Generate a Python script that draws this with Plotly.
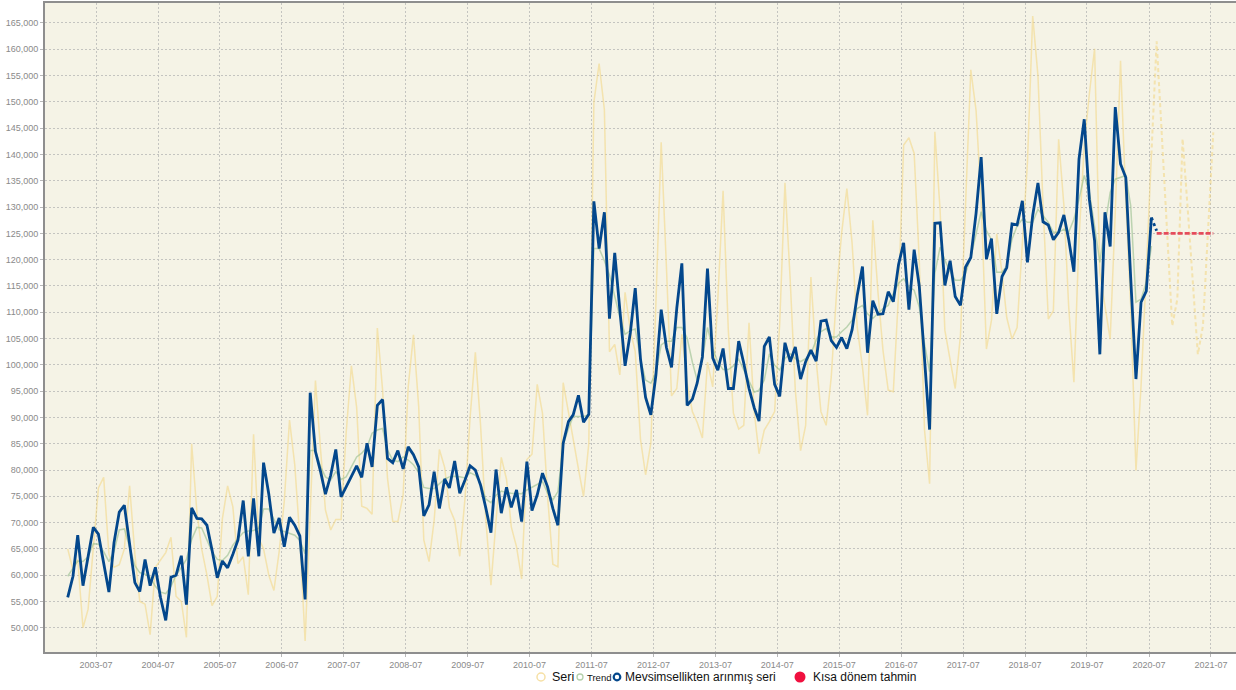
import plotly.graph_objects as go

# ---- data (monthly, Jan 2003 .. Jul 2020) ----
start_year = 2003
seasonally_adjusted = [
    55800, 59800, 67600, 58000, 63500, 69100, 67800, 62500, 56800, 66200, 72000, 73300,
    65500, 58600, 56900, 63000, 58000, 61500, 55800, 51400, 59600, 60000, 63700, 54400,
    72800, 70800, 70700, 69500, 64800, 59500, 62700, 61400, 64000, 66700, 74200, 63600,
    74600, 63600, 81400, 75400, 68000, 70900, 65400, 71000, 69500, 67500, 55400, 94700,
    83500, 79600, 75400, 79000, 83900, 74900, 76800, 78700, 80800, 78600, 85100, 80600,
    92300, 93400, 82200, 81400, 83700, 80200, 84400, 82900, 80600, 71300, 73400, 79700,
    72700, 78300, 76600, 81700, 75600, 78100, 80800, 80000, 77100, 72900, 68100, 80100,
    71800, 76700, 72900, 76200, 70200, 81600, 72300, 75300, 79400, 76800, 72700, 69500,
    85100, 89200, 90500, 94200, 89100, 90600, 131100, 122100, 129000, 108800, 121300, 110500,
    99800, 106100, 114600, 101100, 93800, 90500, 98100, 110500, 103300, 99500, 110800, 119300,
    92300, 93500, 96500, 101500, 118300, 101300, 99000, 103100, 95500, 95500, 104500, 100300,
    95500, 91800, 89300, 103500, 105300, 96300, 94000, 104200, 100600, 103400, 97300, 100600,
    102800, 100700, 108300, 108500, 104600, 103300, 105200, 103100, 106700, 113200, 118700, 102300,
    112200, 109600, 109700, 113900, 112000, 119100, 123200, 110500, 121900, 115000, 101000, 87700,
    126900, 127000, 115100, 119800, 113000, 111300, 118600, 120400, 128800, 139500, 120100, 124000,
    109700, 116800, 118500, 126800, 126600, 131200, 119500, 128400, 134600, 127200, 126600, 123800,
    125200, 128500, 123900, 117700, 139100, 146700, 131500, 123600, 102000, 129000, 122500, 149000,
    138200, 135600, 116500, 97300, 111900, 114000, 128000,
]
raw_series = [
    65000, 61000, 63000, 50000, 53500, 66000, 76600, 78600, 64000, 61500, 62000, 65000,
    77000, 64000, 55000, 54500, 48700, 61500, 63000, 64300, 67200, 56000, 55000, 48200,
    85000, 72000, 65000, 60000, 54200, 56000, 70700, 77000, 73000, 62200, 63500, 56300,
    86800, 67000, 65000, 60000, 57100, 64500, 74000, 89500, 81000, 67000, 47500, 73000,
    97000, 83500, 72400, 68600, 70600, 70600, 87000, 99800, 91900, 73100, 72700, 71600,
    107000, 95200, 78400, 70200, 70200, 75200, 95800, 105700, 92000, 66700, 62600, 70400,
    83900, 80500, 72800, 70400, 63600, 74600, 90000, 102400, 88400, 71000, 58100, 70300,
    82400, 78200, 69200, 65400, 59300, 82000, 83000, 96300, 90800, 75000, 62100, 61600,
    96600, 91000, 85500, 80200, 75000, 85000, 149900, 157300, 148500, 102500, 103900, 98100,
    113800, 106500, 102500, 85800, 79100, 85100, 111800, 142300, 118500, 94100, 95500, 105800,
    96500, 91100, 89100, 86100, 100500, 95800, 112500, 133100, 106500, 90800, 87800, 88500,
    108000, 91000, 83100, 87600, 89200, 91100, 107900, 134600, 116100, 95200, 83700, 88500,
    116700, 100900, 91100, 88500, 97700, 113600, 125000, 133500, 123100, 107200, 99600, 90400,
    127500, 113600, 102800, 95200, 94900, 113600, 141800, 143200, 140200, 119900, 87600, 77400,
    144300, 129400, 106600, 100600, 95500, 105600, 131300, 156100, 148400, 131300, 103000, 108500,
    124900, 117600, 109000, 104900, 107100, 123900, 138500, 166300, 155000, 130300, 108700, 110300,
    142900, 130300, 111200, 96700, 123900, 141700, 151500, 160100, 117600, 111200, 104900, 129000,
    157800, 131500, 111200, 79900, 96000, 118000, 140000,
]
trend = [
    59800, 61200, 62700, 62600, 63500, 66000, 65900, 64500, 62600, 64500, 68600, 68800,
    65300, 61800, 60500, 60200, 59600, 57900, 56800, 56500, 57900, 60000, 61500, 63000,
    66800, 69100, 69000, 66800, 64500, 63000, 62800, 63800, 65700, 67000, 68100, 68400,
    68500, 69000, 72600, 72600, 70600, 68600, 68300, 68000, 67600, 66600, 64100, 83700,
    83700, 80600, 78700, 78100, 79700, 78200, 78700, 80600, 82500, 83200, 84400, 87000,
    87600, 87900, 83800, 81900, 81600, 82500, 81900, 81000, 79500, 76700, 76500, 76500,
    77500, 78300, 78700, 78800, 78700, 78500, 79500, 79000, 77500, 74500, 73800, 75200,
    76000, 75700, 75600, 75500, 75500, 76200, 76700, 77200, 77800, 75600, 74300, 75900,
    84800, 87900, 90200, 90200, 90200, 90500, 122100, 122100, 119800, 117100, 113100, 109100,
    105800, 106500, 106800, 101100, 97100, 96500, 98500, 103800, 104500, 104500, 107100, 107100,
    105100, 100500, 97100, 101100, 107100, 103100, 100500, 99100, 99100, 99800, 101100, 99100,
    96800, 94800, 95200, 97100, 102100, 99900, 99000, 101200, 102100, 101200, 100600, 101200,
    102100, 104700, 106300, 106900, 105300, 105300, 106300, 107200, 108500, 110700, 111300, 109700,
    108800, 109700, 110700, 111300, 113600, 115500, 116400, 114800, 114200, 111000, 104000, 98700,
    117400, 122400, 119900, 117700, 116100, 116100, 117400, 120500, 124600, 129100, 125500, 123800,
    117600, 117600, 118800, 123900, 126400, 127700, 127100, 127100, 129600, 128300, 127100, 125200,
    125200, 125800, 125200, 127700, 131500, 136000, 132800, 126400, 119500, 126400, 132800, 135300,
    135600, 136000, 130300, 111900, 112500, 115700, 122600,
]
# forecast months Jul 2020 .. Jul 2021 (first value = last observed)
raw_forecast = [140000, 161500, 143400, 125400, 107400, 112500, 143000, 129300, 115700,
                102000, 107400, 125800, 144200]
sa_tail = [128000, 125500]            # Jul 2020 -> Aug 2020 (dotted)
short_term_forecast = [125000] * 12   # Aug 2020 .. Jul 2021

y_ticks = list(range(50000, 165001, 5000))

legend_labels = ["Seri", "Trend", "Mevsimsellikten arınmış seri", "Kısa dönem tahmin"]


def month_dates(first_index, count):
    out = []
    for k in range(first_index, first_index + count):
        out.append(f"{start_year + k // 12}-{k % 12 + 1:02d}-15")
    return out


n = len(seasonally_adjusted)
dates = month_dates(0, n)
raw_fc_dates = month_dates(n - 1, len(raw_forecast))
sa_tail_dates = month_dates(n - 1, len(sa_tail))
fc_dates = month_dates(n, len(short_term_forecast))

YELLOW = "rgba(242,214,128,0.55)"
GREEN = "rgba(150,190,140,0.6)"
BLUE = "#03478c"
RED = "rgba(228,60,78,0.9)"
GRID = "#c4c4c0"

W, H = 1236, 690
ML, MR, MT, MB = 45, 0, 3, 38

fig = go.Figure()
fig.add_trace(go.Scatter(x=dates, y=raw_series, mode="lines", name=legend_labels[0],
                         line=dict(color=YELLOW, width=1.5), showlegend=False))
fig.add_trace(go.Scatter(x=raw_fc_dates, y=raw_forecast, mode="lines", name=legend_labels[0],
                         line=dict(color=YELLOW, width=2, dash="4px,3px"), showlegend=False))
fig.add_trace(go.Scatter(x=dates, y=trend, mode="lines", name=legend_labels[1],
                         line=dict(color=GREEN, width=1.5), showlegend=False))
fig.add_trace(go.Scatter(x=dates, y=seasonally_adjusted, mode="lines", name=legend_labels[2],
                         line=dict(color=BLUE, width=2.8), showlegend=False))
fig.add_trace(go.Scatter(x=sa_tail_dates, y=sa_tail, mode="lines", name=legend_labels[2],
                         line=dict(color=BLUE, width=2.8, dash="dot"), showlegend=False))
fig.add_trace(go.Scatter(x=fc_dates, y=short_term_forecast, mode="lines", name=legend_labels[3],
                         line=dict(color=RED, width=2.8, dash="5px,2px"), showlegend=False))

# ---- legend drawn below the plot (pixel-sized symbols + text) ----
LEG_Y_PX = 677
leg_y = (H - LEG_Y_PX - MB) / (H - MB - MT)
legend_items = [
    # (symbol x px, radius, fill, line colour, line width, text x px, font size)
    (541, 4.0, "rgba(0,0,0,0)", "rgba(245,222,160,0.95)", 1.5, 550, 12.5),
    (580, 3.0, "rgba(0,0,0,0)", "rgba(175,205,165,0.95)", 1.3, 585, 9.5),
    (617, 3.3, "rgba(0,0,0,0)", BLUE, 2.2, 623, 12),
    (800, 5.5, "#f0103f", "#f0103f", 0, 811, 12),
]
for (sx, r, fill, lc, lw, tx, fs), label in zip(legend_items, legend_labels):
    fig.add_shape(type="circle", xref="paper", yref="paper",
                  xsizemode="pixel", ysizemode="pixel",
                  xanchor=(sx - ML) / (W - ML - MR), yanchor=leg_y,
                  x0=-r, x1=r, y0=-r, y1=r,
                  fillcolor=fill, line=dict(color=lc, width=lw))
    fig.add_annotation(text=label, xref="paper", yref="paper",
                       x=(tx - ML) / (W - ML - MR), y=leg_y,
                       xanchor="left", yanchor="middle", showarrow=False,
                       font=dict(size=fs, color="#111"))

fig.update_layout(
    width=W, height=H,
    margin=dict(l=ML, r=MR, t=MT, b=MB, autoexpand=False),
    paper_bgcolor="white",
    plot_bgcolor="#f5f3e6",
    font=dict(family="Liberation Sans, Arial, sans-serif", color="#222"),
    showlegend=False,
)
fig.update_xaxes(
    type="date", automargin=False,
    range=["2002-09-03", "2021-11-26"],
    tick0="2003-07-01", dtick="M12", tickformat="%Y-%m",
    tickfont=dict(size=9, color="#8a8a8a"),
    showgrid=True, gridcolor=GRID, griddash="2px,2px", gridwidth=1,
    showline=True, linecolor="#8e8e8e", linewidth=2, mirror=True,
    ticks="outside", ticklen=3, tickcolor="#b8b8b8",
    zeroline=False,
)
fig.update_yaxes(
    automargin=False,
    range=[45400, 168800],
    tickvals=y_ticks, tickformat=",d",
    tickfont=dict(size=9, color="#8a8a8a"),
    showgrid=True, gridcolor=GRID, griddash="2px,2px", gridwidth=1,
    showline=True, linecolor="#8e8e8e", linewidth=2,
    ticks="outside", ticklen=3, tickcolor="#b8b8b8",
    zeroline=False,
)

fig.write_html("out.html",
               config={"displayModeBar": False},
               post_script="document.body.style.margin='0';"
                           "document.body.style.overflow='hidden';")
